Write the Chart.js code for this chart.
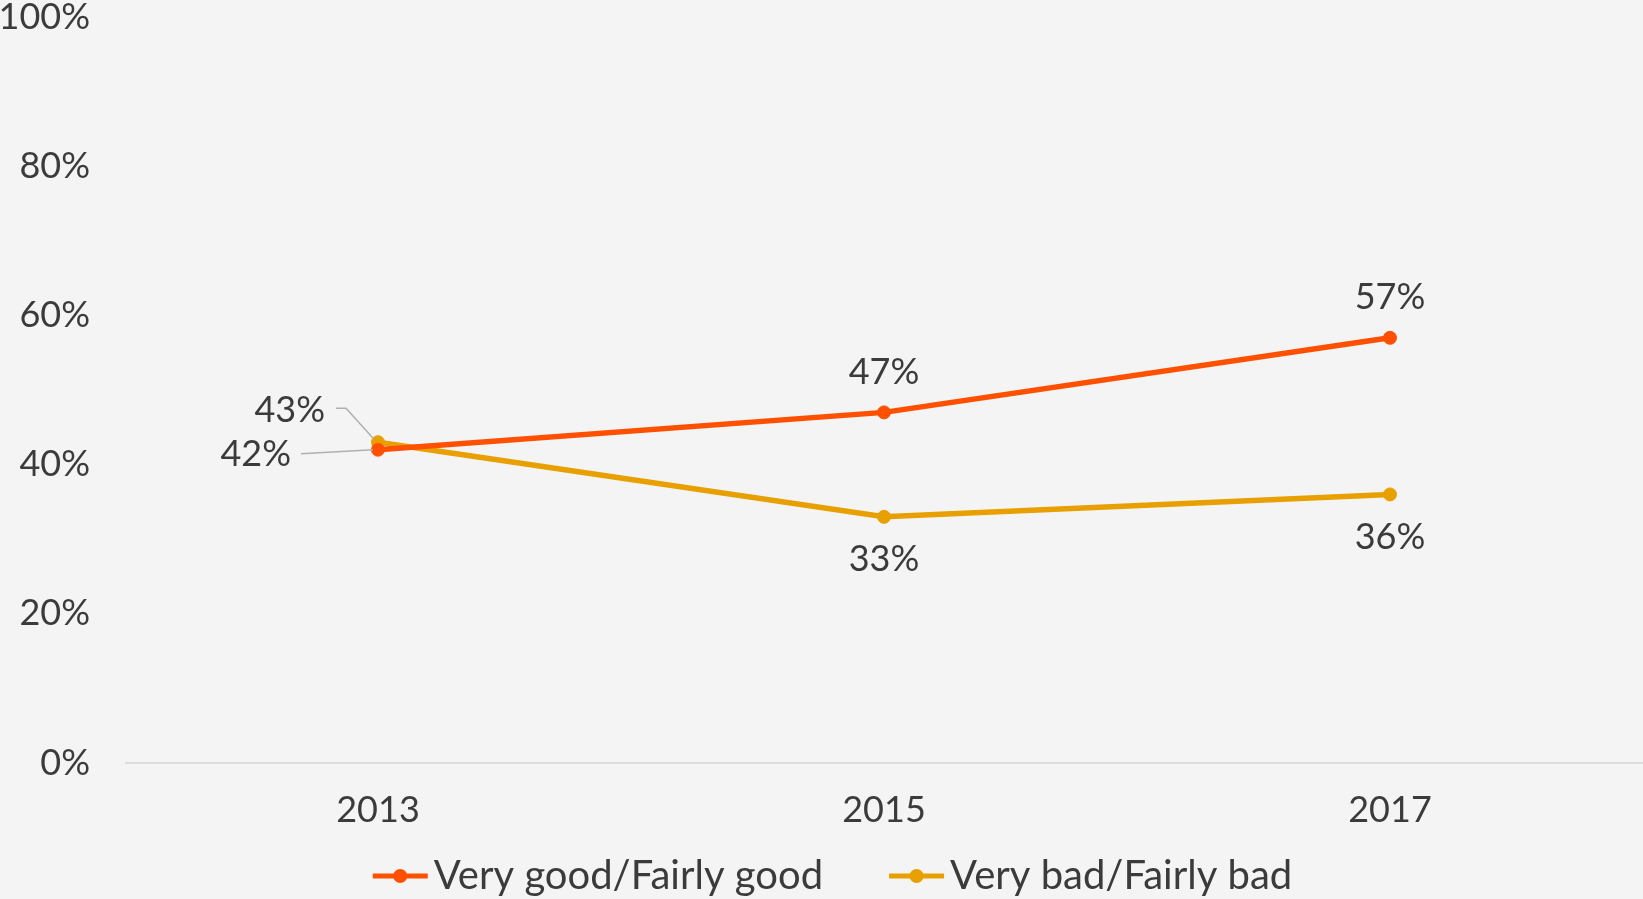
<!DOCTYPE html>
<html>
<head>
<meta charset="utf-8">
<script src="https://cdn.jsdelivr.net/npm/chart.js@4.4.0/dist/chart.umd.min.js"></script>
<style>
    html, body { margin: 0; padding: 0; background: #f4f4f4; overflow: hidden; }
    #wrap { width: 1643px; height: 899px; position: relative; }
</style>
</head>
<body>
<div id="wrap"><canvas id="opinionChart"></canvas></div>
<script>
const years = ['2013', '2015', '2017'];
const goodValues = [42, 47, 57];
const badValues = [43, 33, 36];
const yTicks = [0, 20, 40, 60, 80, 100];
const seriesNames = ['Very good/Fairly good', 'Very bad/Fairly bad'];
// where each value label sits next to its point
const goodLabelPlaces = ['leftLow', 'above', 'above'];
const badLabelPlaces = ['leftHigh', 'below', 'below'];

const COLORS = {
    good: '#ff5000',
    bad: '#e8a000',
    text: '#3b3b3b',
    axis: '#dcdcdc',
    leader: '#b0b0b0'
};
const FONT_FAMILY = "Lato, 'Open Sans', sans-serif";
const FONT_SIZE = 36;
const LEGEND_FONT_SIZE = 40;

const pointLabels = {
    id: 'pointLabels',
    afterDatasetsDraw(chart) {
        const ctx = chart.ctx;
        ctx.save();
        ctx.font = `${FONT_SIZE}px ${FONT_FAMILY}`;
        ctx.fillStyle = COLORS.text;
        ctx.strokeStyle = COLORS.leader;
        ctx.lineWidth = 1.5;
        ctx.textBaseline = 'middle';
        chart.data.datasets.forEach((ds, di) => {
            const meta = chart.getDatasetMeta(di);
            meta.data.forEach((pt, i) => {
                const text = ds.data[i] + '%';
                const x = pt.x, y = pt.y;
                const place = ds.labelPlaces[i];
                if (place === 'above') {
                    ctx.textAlign = 'center';
                    ctx.fillText(text, x, y - 40);
                } else if (place === 'below') {
                    ctx.textAlign = 'center';
                    ctx.fillText(text, x, y + 43);
                } else if (place === 'leftLow') {
                    ctx.textAlign = 'right';
                    ctx.fillText(text, x - 87, y + 5);
                    ctx.beginPath();
                    ctx.moveTo(x - 77, y + 4);
                    ctx.lineTo(x - 5, y);
                    ctx.stroke();
                } else if (place === 'leftHigh') {
                    ctx.textAlign = 'right';
                    ctx.fillText(text, x - 53, y - 32);
                    ctx.beginPath();
                    ctx.moveTo(x - 42, y - 34);
                    ctx.lineTo(x - 32, y - 34);
                    ctx.lineTo(x - 4, y - 3);
                    ctx.stroke();
                }
            });
        });
        ctx.restore();
    }
};

const bottomLegend = {
    id: 'bottomLegend',
    afterDraw(chart) {
        const ctx = chart.ctx;
        ctx.save();
        ctx.font = `${LEGEND_FONT_SIZE}px ${FONT_FAMILY}`;
        ctx.textBaseline = 'middle';
        ctx.textAlign = 'left';
        const lineLen = 55, textGap = 6, itemGap = 66;
        const items = chart.data.datasets.map(ds => ({
            ds: ds,
            w: lineLen + textGap + ctx.measureText(ds.label).width
        }));
        const total = items.reduce((s, it) => s + it.w, 0) + itemGap * (items.length - 1);
        let x = chart.width / 2 + 11 - total / 2;
        const y = chart.height - 23;
        items.forEach(it => {
            ctx.strokeStyle = it.ds.borderColor;
            ctx.fillStyle = it.ds.borderColor;
            ctx.lineWidth = 5;
            ctx.beginPath();
            ctx.moveTo(x, y);
            ctx.lineTo(x + lineLen, y);
            ctx.stroke();
            ctx.beginPath();
            ctx.arc(x + lineLen / 2, y, 7, 0, Math.PI * 2);
            ctx.fill();
            ctx.fillStyle = COLORS.text;
            ctx.fillText(it.ds.label, x + lineLen + textGap, y);
            x += it.w + itemGap;
        });
        ctx.restore();
    }
};

function makeSeries(label, values, color, places) {
    return {
        label: label,
        data: values,
        borderColor: color,
        backgroundColor: color,
        borderWidth: 5.5,
        pointRadius: 6.5,
        pointBorderWidth: 1,
        pointBackgroundColor: color,
        pointBorderColor: color,
        tension: 0,
        fill: false,
        labelPlaces: places
    };
}

const ctx = document.getElementById('opinionChart').getContext('2d');
new Chart(ctx, {
    type: 'line',
    data: {
        labels: years,
        datasets: [
            makeSeries(seriesNames[0], goodValues, COLORS.good, goodLabelPlaces),
            makeSeries(seriesNames[1], badValues, COLORS.bad, badLabelPlaces)
        ]
    },
    options: {
        responsive: true,
        maintainAspectRatio: false,
        animation: false,
        layout: { autoPadding: false, padding: { top: 17, right: 0, bottom: 66, left: 0 } },
        plugins: {
            legend: { display: false },
            tooltip: { enabled: false }
        },
        scales: {
            x: {
                offset: true,
                grid: { display: false, drawTicks: false },
                border: { display: false },
                ticks: {
                    color: COLORS.text,
                    font: { family: FONT_FAMILY, size: FONT_SIZE },
                    padding: 26,
                    maxRotation: 0
                },
                afterFit(scale) {
                    scale.height = 70;
                    scale.paddingLeft = 0;
                    scale.paddingRight = 0;
                }
            },
            y: {
                min: yTicks[0],
                max: yTicks[yTicks.length - 1],
                afterBuildTicks(scale) { scale.ticks = yTicks.map(v => ({ value: v })); },
                grid: {
                    drawTicks: false,
                    lineWidth: 2,
                    color: c => (c.tick && c.tick.value === 0) ? COLORS.axis : 'rgba(0,0,0,0)'
                },
                border: { display: false },
                ticks: {
                    color: COLORS.text,
                    font: { family: FONT_FAMILY, size: FONT_SIZE },
                    padding: 35,
                    callback: v => v + '%'
                },
                afterFit(scale) {
                    scale.width = 125;
                    scale.paddingTop = 0;
                    scale.paddingBottom = 0;
                }
            }
        }
    },
    plugins: [pointLabels, bottomLegend]
});
</script>
</body>
</html>
